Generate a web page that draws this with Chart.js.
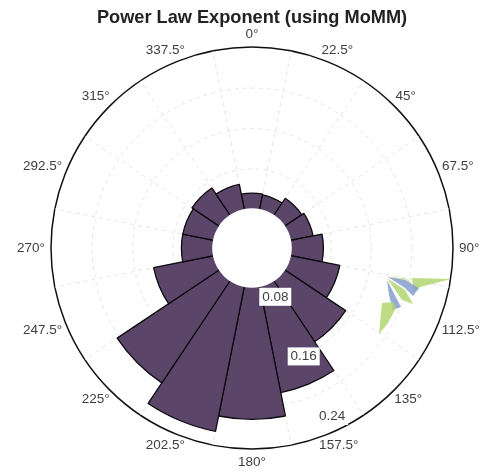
<!DOCTYPE html>
<html><head><meta charset="utf-8">
<style>html,body{margin:0;padding:0;background:#fff}canvas{display:block}</style>
<script src="https://cdn.jsdelivr.net/npm/chart.js@4"></script>
</head><body><canvas id="c" width="489" height="474"></canvas>
<script>
const chartTitle = 'Power Law Exponent (using MoMM)';
const directions = ['0°','22.5°','45°','67.5°','90°','112.5°','135°','157.5°','180°','202.5°','225°','247.5°','270°','292.5°','315°','337.5°'];
const exponent = [0.081,0.080,0.087,0.090,0.101,0.123,0.151,0.193,0.222,0.241,0.211,0.136,0.100,0.100,0.102,0.093];
const gridValues = [0.0615,0.1104,0.1590,0.2082,0.2580];
const holeValue = 0.0615;
const holeValues = directions.map(() => holeValue);
const tickLabels = ['0.08','0.16','0.24'];
const tickValues = [0.08,0.16,0.24];
const tickBearing = 154.5;
const axisMin = 0.0145, axisMax = 0.258;

const logoShapes = [
  ['rgba(178,214,112,.85)', [[412,278],[451,279],[432,284],[420,287],[414,293]]],
  ['rgba(190,220,140,.6)',  [[388,277],[405,278],[413,283],[398,281]]],
  ['rgba(140,163,208,.9)',  [[388,277],[405,280],[419,288],[413,296],[405,288]]],
  ['rgba(178,214,112,.85)', [[387,278],[405,290],[413,304],[402,300]]],
  ['rgba(140,163,208,.9)',  [[387,280],[401,307],[393,310],[389,295]]],
  ['rgba(178,214,112,.85)', [[382,303],[393,302],[396,308],[388,323],[379,334]]]
];

const overlay = {
  id: 'overlay',
  afterDatasetsDraw(chart) {
    const ctx = chart.ctx, s = chart.scales.r;
    ctx.save();
    ctx.textAlign = 'center'; ctx.textBaseline = 'middle';
    ctx.font = '13.5px "Liberation Sans"';
    ctx.fillStyle = '#3f3f3f';
    const half = 11.25 * Math.PI / 180;
    directions.forEach((t, i) => {
      const p = s.getPointPosition(i, 214, half);
      const w = ctx.measureText(t).width;
      ctx.fillText(t, s.xCenter + Math.cos(p.angle) * (207 + w / 2), p.y);
    });
    const b = tickBearing * Math.PI / 180;
    tickLabels.forEach((t, i) => {
      const d = s.getDistanceFromCenterForValue(tickValues[i]);
      const x = s.xCenter + Math.sin(b) * d, y = s.yCenter - Math.cos(b) * d;
      ctx.fillStyle = '#fff';
      ctx.fillRect(x - 16, y - 9, 32, 18);
      ctx.fillStyle = '#3f3f3f';
      ctx.fillText(t, x, y);
    });
    logoShapes.forEach(([col, pts]) => {
      ctx.fillStyle = col;
      ctx.beginPath();
      pts.forEach(([x, y], k) => k ? ctx.lineTo(x, y) : ctx.moveTo(x, y));
      ctx.closePath(); ctx.fill();
    });
    ctx.restore();
  }
};

new Chart(document.getElementById('c'), {
  type: 'polarArea',
  plugins: [overlay],
  data: {
    labels: directions,
    datasets: [
      { data: holeValues, backgroundColor: '#fff', borderColor: '#fff', borderWidth: 2, order: 0 },
      { data: exponent, backgroundColor: '#5b4669', borderColor: '#0d0a10', borderWidth: 1.3, order: 1 }
    ]
  },
  options: {
    responsive: false,
    animation: false,
    layout: { padding: { left: 15, right: 0, top: 0, bottom: 24 } },
    plugins: {
      legend: { display: false },
      tooltip: { enabled: false },
      title: {
        display: true, text: chartTitle, color: '#222',
        font: { family: '"Liberation Sans"', size: 18.2, weight: 'bold' },
        padding: { top: 7, bottom: 17.2 }
      }
    },
    scales: {
      r: {
        min: axisMin, max: axisMax, beginAtZero: false,
        startAngle: -11.25,
        afterBuildTicks(scale) { scale.ticks = gridValues.map(v => ({ value: v })); },
        ticks: { display: false },
        pointLabels: { display: false },
        angleLines: { display: true, color: '#e4e4e4', lineWidth: 1, borderDash: [4, 4] },
        grid: {
          circular: true,
          color: c => c.index === gridValues.length - 1 ? '#111' : '#e4e4e4',
          lineWidth: c => c.index === gridValues.length - 1 ? 1.5 : 1
        },
        border: { dash: c => c.index === gridValues.length - 1 ? [] : [4, 4] }
      }
    }
  }
});
</script></body></html>
